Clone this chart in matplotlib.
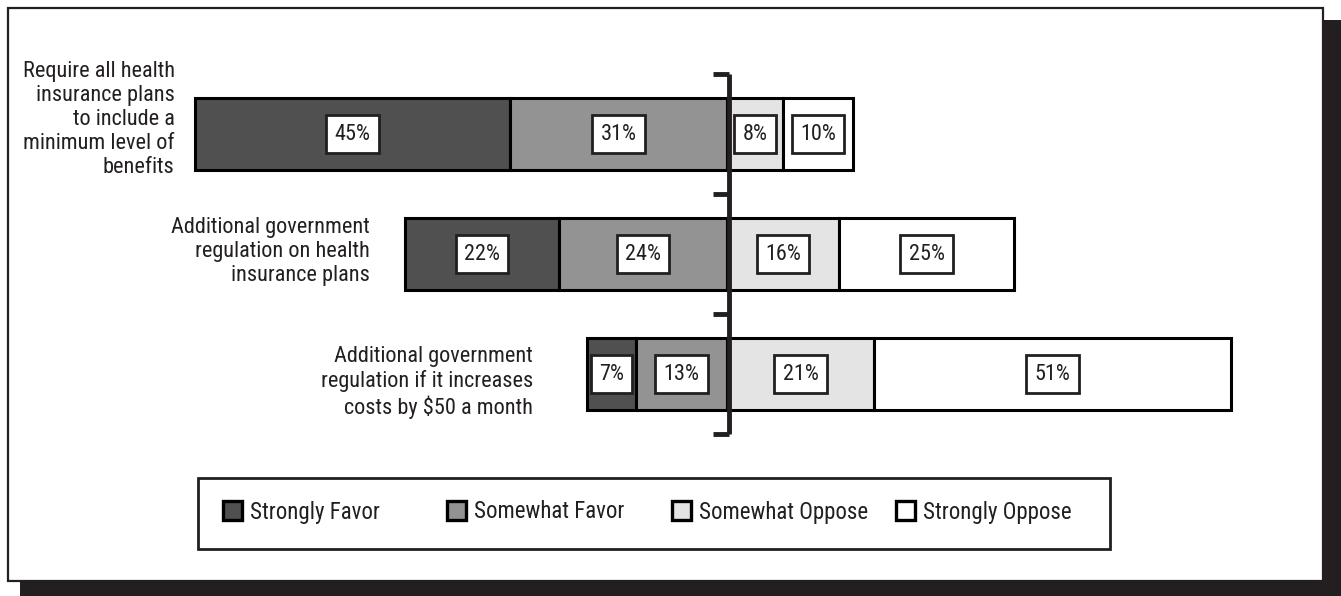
import matplotlib
matplotlib.use("Agg")
import matplotlib.pyplot as plt
from matplotlib.patches import Rectangle
import numpy as np

plt.rcParams["font.family"] = ["Liberation Sans Narrow", "Roboto Condensed", "DejaVu Sans"]
plt.rcParams["font.stretch"] = "condensed"

questions = [
    "Require all health\ninsurance plans\nto include a\nminimum level of\nbenefits",
    "Additional government\nregulation on health\ninsurance plans",
    "Additional government\nregulation if it increases\ncosts by $50 a month",
]
categories = ["Strongly Favor", "Somewhat Favor", "Somewhat Oppose", "Strongly Oppose"]
strongly_favor = [45, 22, 7]
somewhat_favor = [31, 24, 13]
somewhat_oppose = [8, 16, 21]
strongly_oppose = [10, 25, 51]

colors = ["#505050", "#939393", "#e4e4e4", "#ffffff"]
INK = "#231f20"
W, H = 1341, 596
PX_PER_PCT = 7.0
X0, Y0, DY = 727, 134, 120

fig = plt.figure(figsize=(W / 100, H / 100), dpi=100)

# pixel-space overlay for the frame and the legend
frame = fig.add_axes([0, 0, 1, 1])
frame.set_xlim(0, W)
frame.set_ylim(H, 0)
frame.axis("off")
frame.add_patch(Rectangle((20, 20), W - 20, H - 20, fc=INK, ec="none"))
frame.add_patch(Rectangle((8, 8), 1315, 573, fc="white", ec=INK, lw=1.6))

ax = fig.add_axes([0, 0, 1, 1])
ax.set_facecolor("none")
ax.set_xlim(-X0 / PX_PER_PCT, (W - X0) / PX_PER_PCT)
ax.set_ylim((H - Y0) / DY, -Y0 / DY)
ax.axis("off")

y = np.arange(len(questions))
sf = np.array(strongly_favor)
wf = np.array(somewhat_favor)
wo = np.array(somewhat_oppose)
so = np.array(strongly_oppose)

segments = [
    (-(sf + wf), sf),
    (-wf, wf),
    (np.zeros(3), wo),
    (wo, so),
]
for (left, width), col, name in zip(segments, colors, categories):
    ax.barh(y, width, left=left, height=0.6, color=col,
            edgecolor="black", linewidth=2.2, label=name, zorder=2)
    for yi, l, w in zip(y, left, width):
        ax.text(l + w / 2, yi, f"{w}%", ha="center", va="center",
                fontsize=16, color=INK, zorder=4,
                bbox=dict(boxstyle="square,pad=0.38", fc="white",
                          ec=INK, lw=2))

# question labels sit just left of each bar
label_gap = [2.9, 5.0, 7.7]
label_dy = [-0.12, -0.02, 0.07]
for yi, q, start, gap, dy in zip(y, questions, -(sf + wf), label_gap, label_dy):
    ax.text(start - gap, yi + dy, q, ha="right", va="center", fontsize=16,
            color=INK, linespacing=1.18)

# centre divider with category ticks
bounds = np.arange(len(questions) + 1) - 0.5
ax.plot([0.3, 0.3], [bounds[0], bounds[-1]], color=INK, lw=3.5,
        zorder=5, solid_capstyle="butt")
for b in bounds:
    ax.plot([-2.0, 0.3], [b, b], color=INK, lw=3.5, zorder=5,
            solid_capstyle="butt")

# legend: evenly spaced swatches inside a plain box
frame.add_patch(Rectangle((198, 478), 912, 71, fc="white", ec=INK, lw=2))
for k, (name, col) in enumerate(zip(categories, colors)):
    sx = 223 + 224.5 * k
    frame.add_patch(Rectangle((sx, 501), 19, 19, fc=col, ec="black", lw=2.4))
    frame.text(sx + 27, 512, name, ha="left", va="center", fontsize=16.5,
               color=INK)

frame.set_zorder(0)
ax.set_zorder(1)
fig.savefig("out.png", dpi=100)
